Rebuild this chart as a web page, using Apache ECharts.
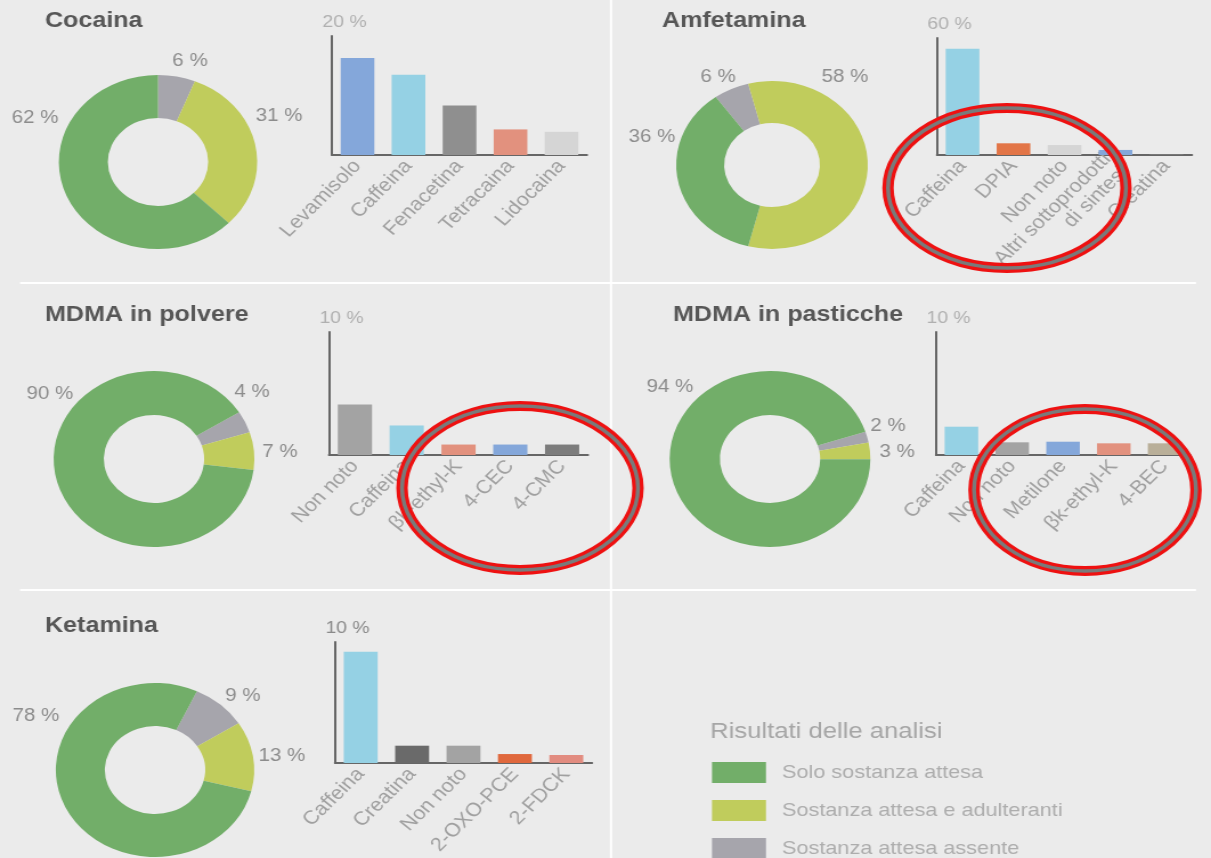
<!DOCTYPE html>
<html>
<head>
<meta charset="utf-8">
<script src="https://cdn.jsdelivr.net/npm/echarts@6/dist/echarts.min.js"></script>
<style>
html,body{margin:0;padding:0;background:#ebebeb;overflow:hidden;width:1211px;height:858px;}
#c{width:1062px;height:858px;transform:scaleX(1.1403);transform-origin:0 0;}
</style>
</head>
<body>
<div id="c"></div>
<script>
// ---------- data ----------
const pieNames = ['Sostanza attesa assente', 'Sostanza attesa e adulteranti', 'Solo sostanza attesa'];
const legendOrder = ['Solo sostanza attesa', 'Sostanza attesa e adulteranti', 'Sostanza attesa assente'];
const panelTitles = ['Cocaina', 'Amfetamina', 'MDMA in polvere', 'MDMA in pasticche', 'Ketamina'];

const cocainaPie = [6, 31, 62];
const amfetaminaPie = [6, 58, 36];
const mdmaPolverePie = [4, 7, 90];
const mdmaPasticchePie = [2, 3, 94];
const ketaminaPie = [9, 13, 78];

const cocainaCats = ['Levamisolo', 'Caffeina', 'Fenacetina', 'Tetracaina', 'Lidocaina'];
const cocainaVals = [16.3, 13.5, 8.3, 4.3, 3.9];
const amfetaminaCats = ['Caffeina', 'DPIA', 'Non noto', 'Altri sottoprodotti\ndi sintesi', 'Creatina'];
const amfetaminaVals = [54.5, 6.0, 5.1, 2.6, 0.4];
const mdmaPolvereCats = ['Non noto', 'Caffeina', 'βk-ethyl-K', '4-CEC', '4-CMC'];
const mdmaPolvereVals = [4.1, 2.4, 0.85, 0.85, 0.85];
const mdmaPasticcheCats = ['Caffeina', 'Non noto', 'Metilone', 'βk-ethyl-K', '4-BEC'];
const mdmaPasticcheVals = [2.3, 1.03, 1.08, 0.95, 0.95];
const ketaminaCats = ['Caffeina', 'Creatina', 'Non noto', '2-OXO-PCE', '2-FDCK'];
const ketaminaVals = [9.2, 1.43, 1.43, 0.74, 0.66];
const axisMaxima = [20, 60, 10, 10, 10];

// ---------- styles / layout ----------
const S = 1.1403; // horizontal stretch of the reference picture
const FONT = 'Liberation Sans';
const pieColors = ['#a6a5ac', '#c0cc5c', '#72ae69'];
const C = {blue:'#84a7da', lblue:'#95d1e4', gray:'#a3a3a3', dgray:'#7c7c7c', lgray:'#d5d5d5', salmon:'#e2917e', orange:'#e27547', tan:'#b9af99', dgray2:'#6a6a6a'};
const barColors = [
  [C.blue, C.lblue, '#8f8f8f', C.salmon, C.lgray],
  [C.lblue, C.orange, C.lgray, C.blue, C.dgray],
  [C.gray, C.lblue, C.salmon, C.blue, C.dgray],
  [C.lblue, C.gray, C.blue, C.salmon, C.tan],
  [C.lblue, C.dgray2, C.gray, '#e0683d', '#e28c80']
];
const pies = [cocainaPie, amfetaminaPie, mdmaPolverePie, mdmaPasticchePie, ketaminaPie];
const cats = [cocainaCats, amfetaminaCats, mdmaPolvereCats, mdmaPasticcheCats, ketaminaCats];
const vals = [cocainaVals, amfetaminaVals, mdmaPolvereVals, mdmaPasticcheVals, ketaminaVals];

// layout in reference pixels
const pieLayout = [
  {cx:158, cy:162, r:[44, 87], start:90},
  {cx:772, cy:165, r:[42, 84], start:126},
  {cx:154, cy:459, r:[44, 88], start:32},
  {cx:770, cy:459, r:[44, 88], start:18},
  {cx:155, cy:770, r:[44, 87], start:65}
];
const pieLabelPos = [
  [[190, 61], [279, 116], [35, 118]],
  [[718, 77], [845, 77], [652, 137]],
  [[252, 392], [280, 452], [50, 394]],
  [[888, 426], [897, 452], [670, 387]],
  [[243, 696], [282, 756], [36, 716]]
];
const gridLayout = [
  {x0:332, x1:587, y0:36, y1:155},
  {x0:937, x1:1192, y0:38, y1:155},
  {x0:329, x1:588, y0:332, y1:455},
  {x0:936, x1:1190, y0:332, y1:455},
  {x0:335, x1:592, y0:642, y1:763}
];
const titlePos = [[45, 10], [662, 10], [45, 304], [673, 304], [45, 615]];

const option = {
  backgroundColor: '#ebebeb',
  animation: false,
  textStyle: {fontFamily: FONT},
  title: panelTitles.map((t, i) => ({
    text: t, left: titlePos[i][0] / S, top: titlePos[i][1], padding: 0,
    textStyle: {fontFamily: FONT, fontSize: 22, fontWeight: 'bold', color: '#575757'}
  })).concat([{
    text: 'Risultati delle analisi', left: 710 / S, top: 720, padding: 0,
    textStyle: {fontFamily: FONT, fontSize: 22.5, fontWeight: 'normal', color: '#a6a6a6'}
  }]),
  legend: {
    data: legendOrder, orient: 'vertical', left: 712 / S, top: 762, height: 200, padding: 0,
    icon: 'rect', itemWidth: 54 / S, itemHeight: 21, itemGap: 17,
    selectedMode: false,
    textStyle: {fontFamily: FONT, fontSize: 19, color: '#adadad', padding: [0, 0, 0, 9]}
  },
  grid: gridLayout.map(g => ({left: g.x0 / S, width: (g.x1 - g.x0) / S, top: g.y0, height: g.y1 - g.y0, containLabel: false})),
  xAxis: cats.map((c, i) => ({
    type: 'category', gridIndex: i, data: c,
    axisLine: {lineStyle: {color: '#666', width: 2}},
    axisTick: {show: false},
    axisLabel: {interval: 0, rotate: 48, margin: 8, color: '#a0a0a0', fontSize: 19, fontFamily: FONT, lineHeight: 20}
  })),
  yAxis: axisMaxima.map((m, i) => ({
    type: 'value', gridIndex: i, min: 0, max: m, interval: m,
    name: m + ' %', nameLocation: 'end', nameGap: 5,
    nameTextStyle: {align: 'center', padding: [0, 0, 0, 22], color: i === 4 ? '#8a8a8a' : '#b0b0b0', fontSize: 17, fontFamily: FONT},
    axisLine: {show: true, lineStyle: {color: '#666', width: 2}},
    axisTick: {show: false}, axisLabel: {show: false}, splitLine: {show: false}
  })),
  series: [],
  graphic: []
};

pies.forEach((p, i) => {
  const L = pieLayout[i];
  option.series.push({
    type: 'pie', center: [L.cx / S, L.cy], radius: L.r, startAngle: L.start, clockwise: true,
    avoidLabelOverlap: false, silent: true,
    label: {show: true, position: 'outside', formatter: '{c} %', color: '#8c8c8c', fontSize: 18, fontFamily: FONT},
    labelLine: {show: false},
    labelLayout: params => ({x: pieLabelPos[i][params.dataIndex][0] / S, y: pieLabelPos[i][params.dataIndex][1], align: 'center', verticalAlign: 'middle'}),
    data: p.map((v, j) => ({name: pieNames[j], value: v, itemStyle: {color: pieColors[j]}}))
  });
});
vals.forEach((v, i) => {
  option.series.push({
    type: 'bar', xAxisIndex: i, yAxisIndex: i, barWidth: '66%', silent: true,
    data: v.map((x, j) => ({value: x, itemStyle: {color: barColors[i][j]}}))
  });
});

// divider lines
option.graphic.push(
  {type: 'line', shape: {x1: 611 / S, y1: 0, x2: 611 / S, y2: 858}, style: {stroke: '#ffffff', lineWidth: 2}},
  {type: 'line', shape: {x1: 20 / S, y1: 283, x2: 1196 / S, y2: 283}, style: {stroke: '#ffffff', lineWidth: 2}},
  {type: 'line', shape: {x1: 20 / S, y1: 590, x2: 1196 / S, y2: 590}, style: {stroke: '#ffffff', lineWidth: 2}}
);
// annotation ellipses
[[1007, 188, 119, 80], [520, 488, 118, 82], [1085, 490, 111, 81]].forEach(e => {
  option.graphic.push(
    {type: 'ellipse', z: 100, shape: {cx: e[0] / S, cy: e[1], rx: e[2] / S, ry: e[3]}, style: {fill: 'none', stroke: '#ee1111', lineWidth: 10}},
    {type: 'ellipse', z: 101, shape: {cx: e[0] / S, cy: e[1], rx: e[2] / S, ry: e[3]}, style: {fill: 'none', stroke: '#7a7a7a', lineWidth: 3.5}}
  );
});

const chart = echarts.init(document.getElementById('c'), null, {renderer: 'canvas'});
chart.setOption(option);
</script>
</body>
</html>
